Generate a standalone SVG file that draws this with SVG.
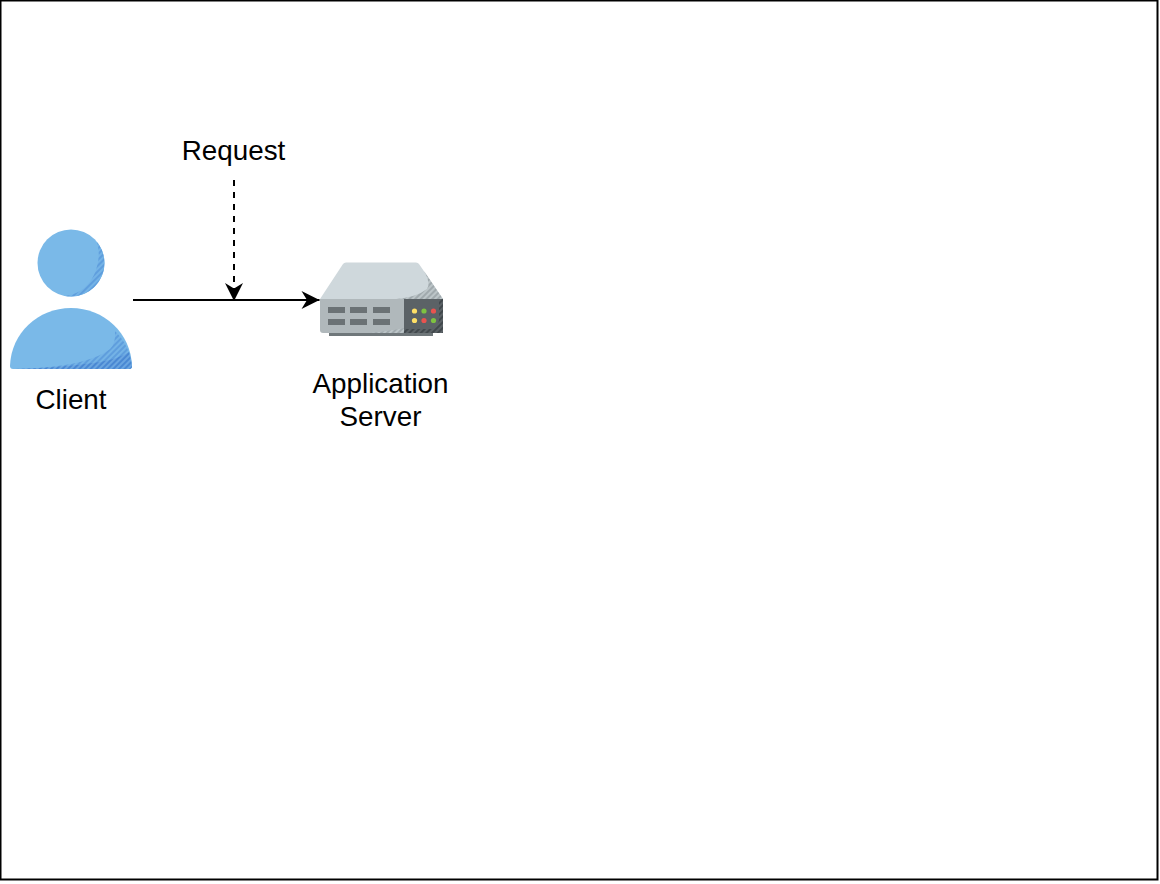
<svg xmlns="http://www.w3.org/2000/svg" width="1160" height="884" viewBox="0 0 1160 884">
<style>
text{font-family:"Liberation Sans",Arial,sans-serif;font-size:27.800px;fill:#000;text-anchor:middle}
.wire{fill:none;stroke:#000;stroke-width:2}
.slot{fill:#6b7275}
</style>
<defs>
<marker id="arrow" markerUnits="userSpaceOnUse" markerWidth="20" markerHeight="20" refX="19" refY="10" orient="auto">
<path d="M1 1 L19 10 L1 19 L6.500 10 Z" fill="#000"/>
</marker>
<pattern id="hatchBlue" width="4" height="4" patternUnits="userSpaceOnUse" patternTransform="rotate(-45)">
<rect width="4" height="4" fill="#74b3e6"/>
<rect width="4" height="2" fill="#5f9edd"/>
</pattern>
<pattern id="hatchDeep" width="4" height="4" patternUnits="userSpaceOnUse" patternTransform="rotate(-45)">
<rect width="4" height="4" fill="#6aa5e0"/>
<rect width="4" height="2" fill="#4a88d3"/>
</pattern>
<pattern id="hatchGrey" width="4" height="4" patternUnits="userSpaceOnUse" patternTransform="rotate(-45)">
<rect width="4" height="4" fill="#bcc5c8"/>
<rect width="4" height="2" fill="#a0a9ad"/>
</pattern>
<pattern id="hatchDark" width="4" height="4" patternUnits="userSpaceOnUse" patternTransform="rotate(-45)">
<rect width="4" height="4" fill="#5b6266"/>
<rect width="4" height="2" fill="#41484c"/>
</pattern>
</defs>
<rect id="frame" x="0.500" y="0.500" width="1157" height="879" fill="#fff" stroke="#000" stroke-width="2"/>
<g id="connectors">
<path class="wire" d="M133 300 H319.500" marker-end="url(#arrow)"/>
<path class="wire" d="M234 180 V301" stroke-dasharray="6 6" marker-end="url(#arrow)"/>
</g>
<g id="client">
<circle cx="71" cy="263" r="33.500" fill="#7ab9e8"/>
<path d="M97 242 A33.500 33.500 0 0 1 65 296 Q88 293 96 270 Q101 256 97 242 Z" fill="url(#hatchBlue)"/>
<path d="M10 366 C11 333 38 308 71 308 C104 308 131 333 132 366 Q132 369 129 369 H13 Q10 369 10 366 Z" fill="#7ab9e8"/>
<path d="M115 331 C124 340 131 352 132 366 Q132 369 129 369 H14 Q55 368 80 362 Q100 357 110 349 Q116 343 115 331 Z" fill="url(#hatchBlue)"/>
<path d="M14 369 Q60 368 100 362 Q118 359 129 352 L132 366 Q132 369 129 369 Z" fill="url(#hatchDeep)"/>
<text x="71" y="409">Client</text>
</g>
<g id="application-server">
<rect x="329" y="332" width="104" height="4" fill="#6f777a"/>
<path d="M320 299 L343 264 Q344 262.500 346 262.500 H416 Q418 262.500 419 264 L443 299 Z" fill="#cfd8dc"/>
<path d="M424 271 L443 299 H396 Q417 297 427 289 Q431 283 424 271 Z" fill="url(#hatchGrey)"/>
<path d="M320 299 H404 V333 H323 Q320 333 320 330 Z" fill="#b0b8bb"/>
<path d="M370 333 Q390 331 404 328 V333 Z" fill="url(#hatchGrey)"/>
<rect x="404" y="299" width="39" height="34" fill="#5b6266"/>
<path d="M443 299 V333 H404 V329 H432 Q438 327 439 320 V299 Z" fill="url(#hatchDark)"/>
<rect class="slot" x="328" y="307" width="17" height="6"/>
<rect class="slot" x="350" y="307" width="17" height="6"/>
<rect class="slot" x="373" y="307" width="17" height="6"/>
<rect class="slot" x="328" y="319" width="17" height="6"/>
<rect class="slot" x="350" y="319" width="17" height="6"/>
<rect class="slot" x="373" y="319" width="17" height="6"/>
<circle cx="414.500" cy="311" r="2.600" fill="#ffe066"/>
<circle cx="424" cy="311" r="2.600" fill="#7ec241"/>
<circle cx="433.500" cy="311" r="2.600" fill="#e9534f"/>
<circle cx="414.500" cy="320.500" r="2.600" fill="#ffe066"/>
<circle cx="424" cy="320.500" r="2.600" fill="#e9534f"/>
<circle cx="433.500" cy="320.500" r="2.600" fill="#7ec241"/>
<text x="380.500" y="393">Application</text>
<text x="380.500" y="426">Server</text>
</g>
<g id="request">
<text x="233.500" y="160">Request</text>
</g>
</svg>
